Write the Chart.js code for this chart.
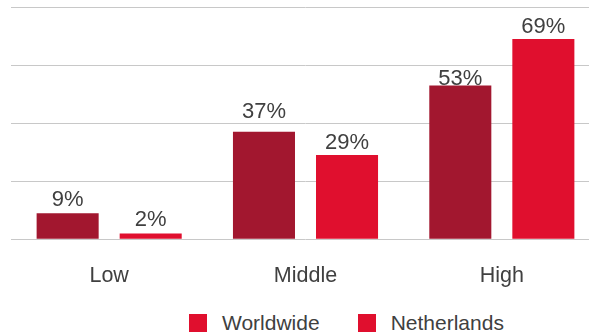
<!DOCTYPE html>
<html>
<head>
<meta charset="utf-8">
<script src="https://cdn.jsdelivr.net/npm/chart.js@4/dist/chart.umd.min.js"></script>
<style>
  html, body { margin: 0; padding: 0; background: #fff; overflow: hidden; }
  #wrap { position: relative; width: 589px; height: 335px; overflow: hidden; }
  #box { position: absolute; left: 0; top: 0; width: 600px; height: 300px; }
  #legend { position: absolute; left: 189px; top: 311px; display: flex; font: 21px "Liberation Sans", Arial, sans-serif; color: #404040; }
  #legend span.item { display: flex; align-items: center; margin-right: 38px; }
  #legend span.sw { display: inline-block; width: 18px; height: 18px; background: #e00f2e; margin-right: 15px; }
</style>
</head>
<body>
<div id="wrap">
  <div id="box"><canvas id="chart"></canvas></div>
  <div id="legend"></div>
</div>
<script>
const categories = ['Low', 'Middle', 'High'];
const worldwide = [9, 37, 53];
const netherlands = [2, 29, 69];
const seriesNames = ['Worldwide', 'Netherlands'];
const yMax = 80;
const yStep = 20;

// how far each label sits above its bar (px), per dataset
const labelLift = [[7, 14, 0], [7, 6, 6]];

const valueLabels = {
    id: 'valueLabels',
    afterDatasetsDraw(chart) {
        const ctx = chart.ctx;
        ctx.save();
        ctx.font = '22px "Liberation Sans", Arial, sans-serif';
        ctx.fillStyle = '#404040';
        ctx.textAlign = 'center';
        ctx.textBaseline = 'alphabetic';
        chart.data.datasets.forEach((ds, di) => {
            chart.getDatasetMeta(di).data.forEach((bar, i) => {
                ctx.fillText(ds.data[i] + '%', bar.x, bar.y - labelLift[di][i]);
            });
        });
        ctx.restore();
    }
};

new Chart(document.getElementById('chart'), {
    type: 'bar',
    data: {
        labels: categories,
        datasets: [
            { label: seriesNames[0], data: worldwide, backgroundColor: '#a2172f' },
            { label: seriesNames[1], data: netherlands, backgroundColor: '#e00f2e' }
        ]
    },
    options: {
        responsive: true,
        maintainAspectRatio: false,
        animation: false,
        layout: { padding: { top: 7, left: 11, right: 0, bottom: 0 } },
        datasets: { bar: { categoryPercentage: 0.846, barPercentage: 0.747 } },
        plugins: {
            legend: { display: false },
            tooltip: { enabled: false }
        },
        scales: {
            y: {
                min: 0,
                max: yMax,
                ticks: { display: false, stepSize: yStep },
                grid: { color: '#c8c8c8', drawTicks: false },
                border: { display: false },
                afterFit(scale) { scale.width = 0; }
            },
            x: {
                ticks: { color: '#404040', padding: 16, font: { family: '"Liberation Sans", Arial, sans-serif', size: 21.5 } },
                grid: { display: false },
                border: { display: false },
                afterFit(scale) { scale.height = 60.7; }
            }
        }
    },
    plugins: [valueLabels]
});

const legend = document.getElementById('legend');
seriesNames.forEach(name => {
    const item = document.createElement('span');
    item.className = 'item';
    item.innerHTML = '<span class="sw"></span>' + name;
    legend.appendChild(item);
});
</script>
</body>
</html>
